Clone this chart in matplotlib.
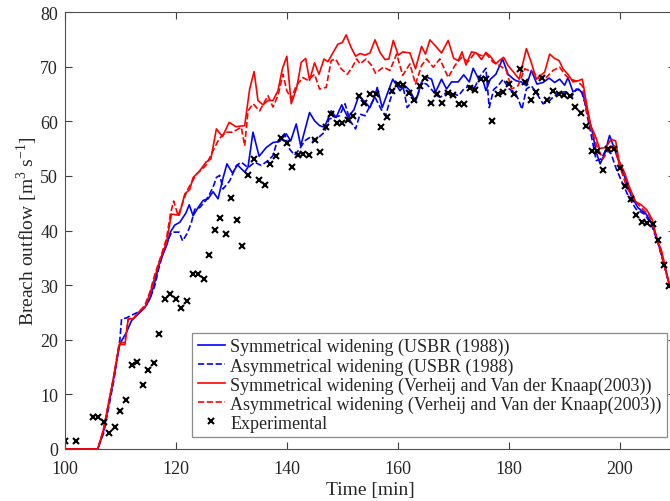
import matplotlib
matplotlib.use("Agg")
import matplotlib.pyplot as plt

plt.rcParams['font.family'] = ['Liberation Serif', 'DejaVu Serif']
plt.rcParams['mathtext.fontset'] = 'custom'
plt.rcParams['mathtext.rm'] = 'Liberation Serif'

# experimental breach outflow (time [min], Q [m3/s])
exp_t = [100, 102, 105, 106, 107, 108, 109, 110, 111, 112, 113, 114, 115, 116, 117, 118, 119, 120,
         121, 122, 123, 124, 125, 126, 127, 128, 129, 130, 131, 132, 133, 134, 135, 136, 137, 138,
         139, 140, 141, 142, 143, 144, 145, 146, 147, 148, 149, 150, 151, 152, 153, 154, 155, 156,
         157, 158, 159, 160, 161, 162, 163, 164, 165, 166, 167, 168, 169, 170, 171, 172, 173, 174,
         175, 176, 177, 178, 179, 180, 181, 182, 183, 184, 185, 186, 187, 188, 189, 190, 191, 192,
         193, 194, 195, 196, 197, 198, 199, 200, 201, 202, 203, 204, 205, 206, 207, 208, 209]
exp_q = [1.4, 1.5, 5.8, 5.8, 5.0, 2.9, 4.1, 6.9, 9.0, 15.4, 15.9, 11.8, 14.4, 15.8, 21.1, 27.5, 28.3, 27.5,
         25.9, 27.1, 32.0, 32.1, 31.1, 35.5, 40.1, 42.2, 39.4, 46.0, 42.0, 37.2, 50.2, 53.1, 49.3, 48.4, 52.2, 53.6,
         56.9, 56.0, 51.7, 53.8, 54.0, 53.8, 56.6, 54.3, 58.9, 61.4, 59.6, 59.6, 60.3, 60.9, 64.7, 63.3, 65.0, 65.0,
         58.9, 60.8, 65.6, 66.9, 66.6, 65.2, 63.9, 66.5, 67.9, 63.4, 65.0, 63.3, 65.2, 64.8, 63.2, 63.2, 66.0, 65.7,
         67.7, 67.8, 60.1, 64.9, 65.4, 66.9, 65.0, 69.6, 67.2, 63.9, 65.3, 67.9, 63.9, 65.5, 65.0, 64.8, 64.6, 62.7,
         61.5, 59.1, 54.5, 54.5, 51.1, 54.9, 54.9, 51.4, 48.2, 45.8, 42.9, 41.6, 41.3, 41.1, 38.3, 33.7, 29.8]

# model results, (time, Q) pairs
usbr_sym = [(100, 0), (105.9, 0), (106.9, 3.0), (108.7, 12.5), (109.8, 18.8), (110.2, 19.8), (111.1, 21.4),
            (112.0, 23.5), (113.5, 25.0), (114.4, 25.9), (115.3, 27.5), (116.2, 30.6), (117.1, 34.2), (118.3, 37.2),
            (119.0, 39.7), (119.8, 41.0), (120.7, 41.5), (121.8, 43.2), (122.4, 44.7), (123.1, 42.7), (124.0, 44.2),
            (124.9, 45.5), (125.8, 45.8), (126.7, 47.1), (127.6, 45.8), (128.5, 49.6), (129.2, 52.2), (130.2, 50.5),
            (131.1, 52.0), (132.4, 50.7), (133.0, 51.6), (133.9, 58.0), (135.0, 53.6), (136.3, 55.2), (137.5, 56.1),
            (138.7, 56.3), (139.9, 57.7), (140.7, 56.4), (141.7, 59.5), (142.5, 55.5), (143.4, 58.9), (144.1, 61.6),
            (145.0, 60.1), (145.9, 59.2), (146.8, 58.9), (148.0, 61.9), (148.9, 60.7), (149.9, 63.0), (151.0, 60.7),
            (152.1, 62.1), (153.0, 64.7), (154.1, 63.5), (155.0, 62.5), (155.9, 64.7), (156.3, 66.2), (157.2, 62.5),
            (158.1, 65.0), (159.1, 67.7), (160.4, 65.6), (161.3, 66.5), (162.2, 65.6), (163.2, 63.6), (164.3, 67.1),
            (165.0, 68.2), (166.1, 67.7), (166.8, 65.3), (167.9, 67.7), (168.8, 65.9), (169.7, 67.2), (170.9, 67.2),
            (171.9, 68.5), (172.9, 67.2), (173.6, 69.7), (174.5, 67.9), (175.4, 67.4), (175.9, 65.6), (176.7, 67.7),
            (177.7, 68.6), (178.9, 71.4), (179.9, 68.6), (180.9, 67.7), (181.4, 67.4), (182.3, 67.2), (183.2, 66.5),
            (184.1, 69.3), (185.1, 66.8), (186.2, 67.1), (187.3, 67.9), (188.3, 67.1), (189.2, 67.7), (190.1, 66.6),
            (190.7, 68.0), (191.6, 65.4), (192.6, 65.9), (193.4, 65.0), (194.3, 61.3), (195.1, 58.0), (195.8, 54.3),
            (196.5, 52.2), (197.3, 54.0), (198.2, 57.4), (199.1, 54.9), (200.0, 52.2), (201.2, 49.1), (202.1, 46.4),
            (203.3, 44.2), (204.8, 43.0), (205.7, 41.5), (206.6, 39.0), (207.8, 34.8), (208.7, 31.1), (209.0, 30.0)]

usbr_asym = [(100, 0), (105.9, 0), (107.0, 3.0), (108.8, 12.5), (109.9, 20.0), (110.2, 23.8), (111.1, 24.0),
             (112.0, 24.5), (113.5, 25.2), (114.5, 26.0), (115.5, 28.0), (116.2, 29.9), (116.8, 32.6), (117.7, 36.0),
             (119.2, 39.7), (120.6, 39.7), (121.2, 38.1), (122.0, 39.4), (122.8, 41.5), (123.4, 43.9), (124.3, 44.2),
             (125.4, 45.5), (126.1, 46.7), (126.8, 48.2), (127.3, 49.7), (127.9, 50.1), (128.5, 47.6), (129.7, 49.1),
             (130.9, 51.9), (131.8, 52.5), (133.0, 51.5), (134.2, 52.5), (135.4, 51.9), (136.6, 52.8), (137.5, 53.7),
             (138.1, 55.8), (138.7, 56.7), (139.6, 57.7), (140.5, 54.9), (141.4, 53.8), (142.3, 54.9), (143.2, 56.4),
             (144.1, 57.0), (145.0, 56.4), (145.9, 57.2), (146.8, 58.0), (147.6, 60.4), (148.6, 60.7), (149.5, 61.0),
             (150.5, 63.2), (151.4, 60.1), (152.4, 58.6), (153.2, 61.3), (154.1, 61.0), (155.0, 62.8), (155.9, 64.4),
             (157.0, 62.2), (157.8, 61.0), (158.6, 63.8), (159.5, 66.5), (161.0, 66.2), (161.7, 62.5), (162.5, 63.5),
             (163.4, 64.1), (164.3, 67.1), (165.2, 66.8), (166.1, 65.8), (167.0, 64.7), (167.7, 64.4), (168.8, 65.3),
             (170.0, 65.0), (171.0, 64.7), (171.9, 65.9), (172.9, 66.5), (173.9, 66.2), (174.8, 68.2), (175.9, 69.7),
             (176.5, 62.5), (177.3, 65.8), (178.1, 66.5), (179.0, 67.7), (180.1, 65.9), (181.1, 65.3), (181.7, 64.1),
             (182.4, 62.2), (183.2, 65.9), (184.1, 66.5), (185.3, 64.7), (186.2, 63.2), (187.1, 63.5), (188.0, 64.4),
             (189.2, 65.3), (190.4, 65.4), (191.3, 64.4), (192.2, 65.9), (193.1, 65.6), (193.7, 63.5), (194.3, 60.4),
             (194.9, 57.4), (195.8, 52.8), (196.7, 53.1), (197.6, 54.9), (198.5, 54.0), (199.4, 51.3), (200.6, 48.5),
             (201.8, 45.8), (203.0, 43.9), (204.5, 43.0), (205.7, 41.2), (206.9, 37.8), (208.1, 33.6), (209.0, 29.9)]

vk_sym = [(100, 0), (105.9, 0), (106.9, 3.4), (108.7, 12.8), (109.8, 19.2), (110.8, 19.1), (111.4, 23.8),
          (112.4, 23.9), (113.2, 25.0), (114.4, 25.9), (115.4, 28.7), (116.2, 31.5), (117.2, 34.8), (118.3, 37.8),
          (119.2, 43.0), (120.6, 42.8), (121.6, 46.7), (122.5, 47.5), (123.1, 49.7), (124.2, 50.8), (125.4, 52.5),
          (126.3, 53.1), (127.3, 58.6), (128.4, 57.2), (129.6, 59.8), (130.8, 59.0), (132.4, 59.2), (133.3, 65.9),
          (134.1, 69.1), (134.8, 63.8), (135.7, 63.0), (136.6, 63.8), (137.5, 63.8), (138.4, 65.6), (139.2, 69.6),
          (140.0, 71.9), (140.8, 63.2), (141.8, 66.2), (142.6, 70.8), (143.4, 71.5), (144.1, 67.5), (145.0, 70.7),
          (145.8, 68.6), (146.7, 71.4), (147.4, 70.9), (148.3, 72.5), (149.2, 74.1), (150.0, 74.4), (150.7, 75.8),
          (151.6, 73.5), (152.4, 71.9), (153.2, 72.4), (154.1, 72.1), (155.0, 72.5), (155.9, 74.9), (156.8, 72.6),
          (157.7, 71.3), (158.4, 71.4), (159.2, 74.8), (160.1, 72.1), (160.9, 72.7), (162.2, 72.5), (163.2, 69.6),
          (164.3, 73.7), (165.0, 72.3), (165.8, 74.9), (166.7, 73.9), (167.9, 72.5), (169.1, 74.8), (170.1, 71.5),
          (170.9, 71.1), (171.6, 72.7), (172.3, 70.3), (173.3, 72.7), (174.2, 72.5), (175.1, 71.3), (175.9, 72.6),
          (176.7, 71.9), (177.7, 70.5), (178.3, 71.1), (179.1, 71.7), (179.9, 70.2), (180.8, 69.1), (181.9, 67.7),
          (183.2, 73.3), (184.1, 70.7), (185.0, 67.7), (185.9, 68.5), (186.5, 69.0), (187.4, 72.3), (188.3, 71.5),
          (189.1, 71.1), (189.8, 69.6), (190.7, 68.6), (191.6, 67.2), (192.5, 67.4), (193.3, 67.7), (194.0, 63.5),
          (194.8, 59.2), (195.6, 57.4), (196.4, 55.0), (197.5, 55.2), (198.5, 56.7), (199.3, 56.4), (199.9, 52.8),
          (200.9, 50.6), (201.8, 47.9), (202.9, 45.3), (203.9, 44.7), (204.9, 43.8), (205.9, 42.0), (206.9, 37.8),
          (207.5, 36.6), (209.0, 30.0)]

vk_asym = [(100, 0), (105.9, 0), (106.9, 3.4), (108.7, 12.8), (109.8, 19.5), (110.8, 19.5), (111.4, 23.8),
           (112.4, 24.0), (113.2, 25.0), (114.4, 26.3), (115.4, 29.0), (116.2, 32.0), (117.2, 35.0), (118.3, 38.5),
           (119.0, 43.0), (119.6, 45.4), (120.4, 42.7), (122.0, 47.3), (123.7, 50.3), (125.4, 51.9), (126.7, 54.6),
           (127.8, 56.8), (129.0, 58.0), (130.2, 58.0), (131.8, 58.9), (132.4, 55.5), (133.0, 61.9), (133.9, 63.2),
           (135.1, 61.9), (136.6, 64.7), (137.5, 62.6), (138.4, 64.7), (139.3, 68.6), (140.0, 65.6), (140.8, 64.1),
           (141.7, 66.5), (142.9, 68.0), (143.8, 67.5), (145.0, 68.6), (145.9, 65.9), (147.1, 66.2), (148.0, 71.1),
           (148.8, 71.4), (149.8, 69.6), (150.9, 68.6), (151.8, 69.9), (152.6, 71.4), (153.2, 70.5), (154.3, 71.4),
           (155.3, 70.2), (156.0, 68.8), (157.4, 69.9), (158.6, 69.3), (159.8, 72.3), (160.9, 68.4), (162.2, 70.5),
           (163.2, 66.8), (164.3, 70.2), (165.2, 71.4), (166.4, 69.9), (167.6, 71.4), (169.1, 68.0), (170.3, 70.2),
           (171.5, 71.7), (172.7, 70.9), (173.9, 72.5), (175.1, 72.0), (176.0, 72.3), (177.2, 70.8), (178.4, 70.2),
           (179.6, 69.3), (180.5, 65.9), (181.7, 66.5), (182.9, 69.6), (184.4, 69.0), (185.6, 67.7), (186.8, 68.0),
           (188.0, 69.3), (189.2, 69.9), (190.1, 68.6), (191.0, 67.7), (192.2, 67.4), (193.3, 66.5), (194.0, 62.2),
           (194.9, 58.6), (195.9, 55.5), (197.0, 53.1), (198.1, 54.9), (199.1, 55.5), (200.0, 51.9), (201.2, 48.2),
           (202.4, 45.8), (203.9, 44.2), (205.4, 42.7), (206.6, 39.0), (209.0, 30.0)]

labels = ['Symmetrical widening (USBR (1988))',
          'Asymmetrical widening (USBR (1988)',
          'Symmetrical widening (Verheij and Van der Knaap(2003))',
          'Asymmetrical widening (Verheij and Van der Knaap(2003))',
          'Experimental']

text_color = '#262626'

fig = plt.figure(figsize=(6.7, 5.02), dpi=100)
ax = fig.add_axes([65 / 670, 52 / 502, 610 / 670, 437 / 502])

series = [(usbr_sym, 'blue', '-'), (usbr_asym, 'blue', '--'),
          (vk_sym, 'red', '-'), (vk_asym, 'red', '--')]
for (data, color, ls), lab in zip(series, labels[:4]):
    t, q = zip(*data)
    ax.plot(t, q, color=color, linestyle=ls, linewidth=1.2, label=lab)

ax.plot(exp_t, exp_q, linestyle='none', marker='x', color='black', markersize=5,
        markeredgewidth=1.5, label=labels[4])

ax.set_xlim(100, 210)
ax.set_ylim(0, 80)
ax.set_xticks(range(100, 201, 20))
ax.set_yticks(range(0, 81, 10))
ax.tick_params(direction='in', top=True, right=True, length=5, labelsize=13,
               color='#404040', labelcolor=text_color)
ax.tick_params(axis='x', pad=8)
ax.tick_params(axis='y', pad=5)
for s in ax.spines.values():
    s.set_color('#505050')
    s.set_linewidth(0.8)

ax.set_xlabel('Time [min]', fontsize=14, labelpad=3, color=text_color)
ax.set_ylabel(r'Breach outflow [m$^{3}$ s$^{-1}$]', fontsize=14, labelpad=0, color=text_color)

leg = ax.legend(loc='lower right', bbox_to_anchor=(667 / 670, 64 / 502),
                bbox_transform=fig.transFigure, fontsize=13, frameon=True,
                fancybox=False, borderaxespad=0, handlelength=1.5, handletextpad=0.3,
                labelspacing=0.1, borderpad=0.3)
leg.get_frame().set_edgecolor('#707070')
leg.get_frame().set_linewidth(0.9)
for txt in leg.get_texts():
    txt.set_color(text_color)

fig.savefig('out.png', dpi=100)
